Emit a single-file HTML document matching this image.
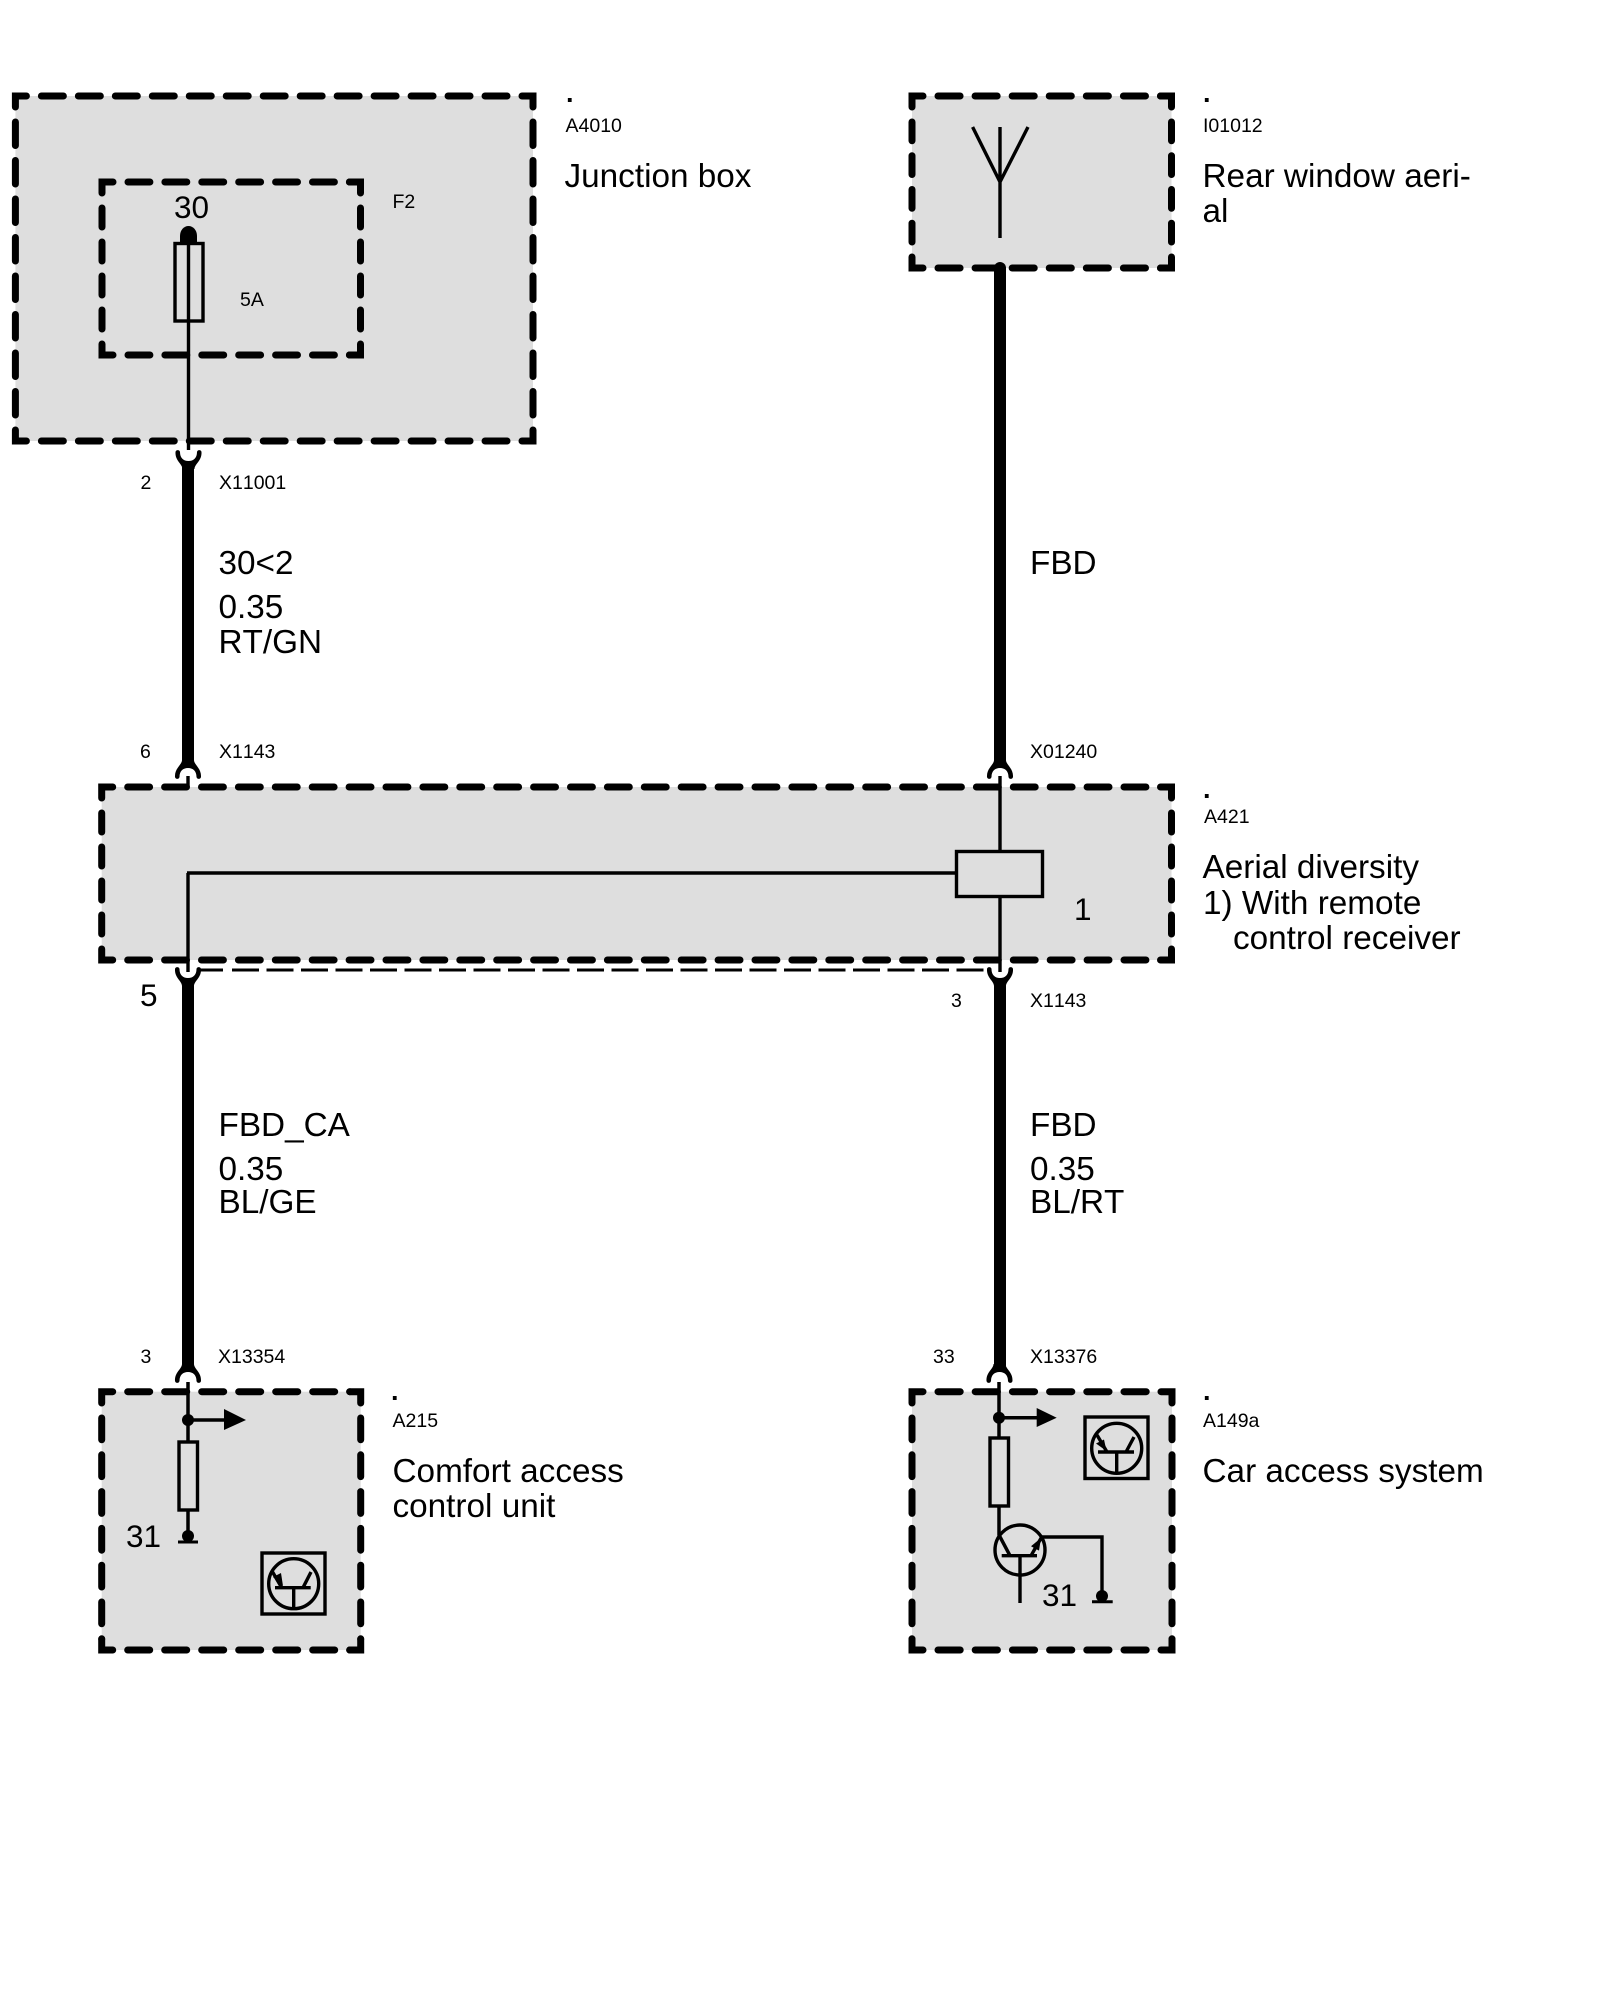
<!DOCTYPE html>
<html><head><meta charset="utf-8"><style>
html,body{margin:0;padding:0;background:#fff}
svg{display:block}
text{font-family:"Liberation Sans",sans-serif;fill:#000;font-kerning:none}
.s{font-size:19.5px}.l{font-size:33.3px}.m{font-size:31.5px}
.p{font-size:27px;font-weight:bold}
.c{fill:none;stroke:#000;stroke-width:7;stroke-linecap:round;stroke-linejoin:miter}
.d{fill:none;stroke:#000;stroke-width:7;stroke-linecap:round}
.w{fill:none;stroke:#000;stroke-width:3.4}
.t{fill:none;stroke:#000;stroke-width:12}
</style></head><body>
<svg width="1600" height="2000" viewBox="0 0 1600 2000" xmlns="http://www.w3.org/2000/svg">
<defs>
<path id="fk" d="M-6 -8C-6 -3 -13.5 0 -13 9A2.3 2.3 0 0 0 -8.5 9C-8.5 3 -5 0 0 0C5 0 8.5 3 8.5 9A2.3 2.3 0 0 0 13 9C13.5 0 6 -3 6 -8Z" fill="#000"/>
</defs>
<rect width="1600" height="2000" fill="#fff"/>
<!-- fills -->
<g fill="#dedede">
<rect x="15.4" y="96" width="517.6" height="345"/>
<rect x="912" y="96" width="259.5" height="172"/>
<rect x="101.7" y="787" width="1069.8" height="173"/>
<rect x="101.7" y="1391.7" width="259" height="258.3"/>
<rect x="912" y="1391.7" width="260" height="258.3"/>
</g>
<!-- box 1 -->
<path class="c" d="M15.4 107V96H26.4M522 96H533V107M533 430V441H522M26.4 441H15.4V430"/>
<line class="d" x1="26.4" y1="96" x2="522" y2="96" stroke-dasharray="21.97 15" stroke-dashoffset="21.97"/>
<line class="d" x1="26.4" y1="441" x2="522" y2="441" stroke-dasharray="21.97 15" stroke-dashoffset="21.97"/>
<line class="d" x1="15.4" y1="107" x2="15.4" y2="430" stroke-dasharray="23.5 15" stroke-dashoffset="23.5"/>
<line class="d" x1="533" y1="107" x2="533" y2="430" stroke-dasharray="23.5 15" stroke-dashoffset="23.5"/>
<!-- F2 -->
<path class="c" d="M102 193V182H113M349.5 182H360.5V193M360.5 344V355H349.5M113 355H102V344"/>
<line class="d" x1="113" y1="182" x2="349.5" y2="182" stroke-dasharray="21.9 15" stroke-dashoffset="21.9"/>
<line class="d" x1="113" y1="355" x2="349.5" y2="355" stroke-dasharray="21.9 15" stroke-dashoffset="21.9"/>
<line class="d" x1="102" y1="193" x2="102" y2="344" stroke-dasharray="19 15" stroke-dashoffset="19"/>
<line class="d" x1="360.5" y1="193" x2="360.5" y2="344" stroke-dasharray="19 15" stroke-dashoffset="19"/>
<!-- antenna box -->
<path class="c" d="M912 107V96H923M1160.5 96H1171.5V107M1171.5 257V268H1160.5M923 268H912V257"/>
<line class="d" x1="923" y1="96" x2="1160.5" y2="96" stroke-dasharray="22.08 15" stroke-dashoffset="22.08"/>
<line class="d" x1="923" y1="268" x2="1160.5" y2="268" stroke-dasharray="22.08 15" stroke-dashoffset="22.08"/>
<line class="d" x1="912" y1="107" x2="912" y2="257" stroke-dasharray="18.75 15" stroke-dashoffset="18.75"/>
<line class="d" x1="1171.5" y1="107" x2="1171.5" y2="257" stroke-dasharray="18.75 15" stroke-dashoffset="18.75"/>
<!-- A421 -->
<path class="c" d="M101.7 798V787H112.7M1160.5 787H1171.5V798M1171.5 949V960H1160.5M112.7 960H101.7V949"/>
<line class="d" x1="112.7" y1="787" x2="1160.5" y2="787" stroke-dasharray="21.9 15" stroke-dashoffset="21.9"/>
<line class="d" x1="112.7" y1="960" x2="1160.5" y2="960" stroke-dasharray="21.9 15" stroke-dashoffset="21.9"/>
<line class="d" x1="101.7" y1="798" x2="101.7" y2="949" stroke-dasharray="19 15" stroke-dashoffset="19"/>
<line class="d" x1="1171.5" y1="798" x2="1171.5" y2="949" stroke-dasharray="19 15" stroke-dashoffset="19"/>
<!-- bottom left -->
<path class="c" d="M101.7 1403V1391.7H112.7M349.7 1391.7H360.7V1403M360.7 1639V1650H349.7M112.7 1650H101.7V1639"/>
<line class="d" x1="112.7" y1="1391.7" x2="349.7" y2="1391.7" stroke-dasharray="22 15" stroke-dashoffset="22"/>
<line class="d" x1="112.7" y1="1650" x2="349.7" y2="1650" stroke-dasharray="22 15" stroke-dashoffset="22"/>
<line class="d" x1="101.7" y1="1403" x2="101.7" y2="1639" stroke-dasharray="21.8 15" stroke-dashoffset="21.8"/>
<line class="d" x1="360.7" y1="1403" x2="360.7" y2="1639" stroke-dasharray="21.8 15" stroke-dashoffset="21.8"/>
<!-- bottom right -->
<path class="c" d="M912 1403V1391.7H923M1161 1391.7H1172V1403M1172 1639V1650H1161M923 1650H912V1639"/>
<line class="d" x1="923" y1="1391.7" x2="1161" y2="1391.7" stroke-dasharray="22.2 15" stroke-dashoffset="22.2"/>
<line class="d" x1="923" y1="1650" x2="1161" y2="1650" stroke-dasharray="22.2 15" stroke-dashoffset="22.2"/>
<line class="d" x1="912" y1="1403" x2="912" y2="1639" stroke-dasharray="21.8 15" stroke-dashoffset="21.8"/>
<line class="d" x1="1172" y1="1403" x2="1172" y2="1639" stroke-dasharray="21.8 15" stroke-dashoffset="21.8"/>

<!-- thick wires -->
<line class="t" x1="188" y1="462" x2="188" y2="762"/>
<line class="t" x1="1000" y1="268" x2="1000" y2="762"/>
<circle cx="1000" cy="268" r="6" fill="#000"/>
<line class="t" x1="188" y1="984" x2="188" y2="1366"/>
<line class="t" x1="1000" y1="984" x2="1000" y2="1366"/>
<!-- forks -->
<use href="#fk" transform="translate(188.5,461) scale(1,-1)"/>
<use href="#fk" transform="translate(188,768)"/>
<use href="#fk" transform="translate(1000,768)"/>
<use href="#fk" transform="translate(188,978) scale(1,-1)"/>
<use href="#fk" transform="translate(1000,978) scale(1,-1)"/>
<use href="#fk" transform="translate(188,1372)"/>
<use href="#fk" transform="translate(999.5,1372)"/>
<!-- box1 internals -->
<line class="w" x1="188.5" y1="236" x2="188.5" y2="450"/>
<rect class="w" x="175" y="243.5" width="28" height="77.5"/>
<path d="M180 243V236C180 230 184 226 188.5 226C193 226 197 230 197 236V243Z" fill="#000"/>
<!-- antenna -->
<path class="w" d="M1000 127V238M972.6 127L1000 182L1028 127"/>
<!-- A421 internals -->
<path class="w" d="M188 776V787M188 873V972M187 873H956M1000 776V851M1000 896V972"/>
<rect class="w" x="956.5" y="851.5" width="86" height="45"/>
<line x1="200" y1="970" x2="223" y2="970" stroke="#000" stroke-width="3"/>
<line x1="232" y1="970" x2="987" y2="970" stroke="#000" stroke-width="3" stroke-dasharray="27 7.5"/>
<!-- bottom left internals -->
<path class="w" style="stroke-width:3.5" d="M188 1382V1441.7M188 1510V1537M188 1420H225"/>
<circle cx="188" cy="1420" r="6" fill="#000"/>
<polygon points="224,1409 246,1420 224,1430" fill="#000"/>
<rect class="w" x="179" y="1442" width="18.5" height="68"/>
<circle cx="188" cy="1536" r="6" fill="#000"/>
<line x1="178" y1="1542" x2="198" y2="1542" stroke="#000" stroke-width="3"/>
<rect class="w" x="262" y="1553" width="63" height="61"/>
<circle class="w" cx="293.7" cy="1583.7" r="25"/>
<path class="w" d="M275 1587.7H310.7M293.7 1587.7V1608M281.7 1587.7L272 1571M303 1587.7L311 1572"/>
<polygon points="283,1586 281,1573 273,1577" fill="#000"/>
<!-- bottom right internals -->
<path class="w" style="stroke-width:3.5" d="M999 1382V1438M999 1506V1535L1010 1555.7M999 1417.7H1037"/>
<circle cx="999" cy="1417.7" r="6" fill="#000"/>
<polygon points="1036.7,1408 1056.7,1417.7 1036.7,1427" fill="#000"/>
<rect class="w" x="990" y="1438" width="18.5" height="68"/>
<circle class="w" cx="1020" cy="1550" r="25"/>
<path class="w" d="M1001.7 1555.7H1037M1020 1555.7V1603M1031 1555.7L1041.7 1537H1102V1591"/>
<polygon points="1041,1538 1039,1550.6 1031,1546.2" fill="#000"/>
<circle cx="1102" cy="1596" r="6" fill="#000"/>
<line x1="1092" y1="1601.7" x2="1112.7" y2="1601.7" stroke="#000" stroke-width="3"/>
<rect class="w" x="1085" y="1417" width="63" height="61.5"/>
<circle class="w" cx="1116.7" cy="1448.3" r="25"/>
<path class="w" d="M1098 1452H1134M1116.7 1452V1472.5M1107 1452L1097 1435M1126 1452L1134 1437"/>
<polygon points="1106.5,1451 1104,1439.5 1096,1443.5" fill="#000"/>

<!-- text -->
<text class="p" x="566" y="102">.</text>
<text class="s" x="565.5" y="132">A4010</text>
<text class="l" x="564.5" y="187">Junction box</text>
<text class="s" x="392.5" y="208">F2</text>
<text class="s" x="240" y="306">5A</text>
<text class="m" x="174" y="218">30</text>
<text class="s" x="140.5" y="489">2</text>
<text class="s" x="219" y="489">X11001</text>

<text class="p" x="1203" y="102">.</text>
<text class="s" x="1203" y="132">I01012</text>
<text class="l" x="1202.5" y="187">Rear window aeri-</text>
<text class="l" x="1202.5" y="222">al</text>

<text class="l" x="218.5" y="574">30&lt;2</text>
<text class="l" x="218.5" y="618">0.35</text>
<text class="l" x="218.5" y="653">RT/GN</text>
<text class="l" x="1030" y="574">FBD</text>

<text class="s" x="140" y="758">6</text>
<text class="s" x="219" y="758">X1143</text>
<text class="s" x="1030" y="758">X01240</text>

<text class="p" x="1203" y="798">.</text>
<text class="s" x="1204" y="823">A421</text>
<text class="l" x="1202.5" y="878">Aerial diversity</text>
<text class="l" x="1203" y="914">1) With remote</text>
<text class="l" x="1233" y="949">control receiver</text>
<text class="m" x="1074" y="920">1</text>

<text class="m" x="140" y="1006">5</text>
<text class="s" x="951" y="1007">3</text>
<text class="s" x="1030" y="1007">X1143</text>

<text class="l" x="218.5" y="1136">FBD_CA</text>
<text class="l" x="218.5" y="1180">0.35</text>
<text class="l" x="218.5" y="1213">BL/GE</text>
<text class="l" x="1030" y="1136">FBD</text>
<text class="l" x="1030" y="1180">0.35</text>
<text class="l" x="1030" y="1213">BL/RT</text>

<text class="s" x="140.5" y="1363">3</text>
<text class="s" x="218" y="1363">X13354</text>
<text class="s" x="933" y="1363">33</text>
<text class="s" x="1030" y="1363">X13376</text>

<text class="p" x="391" y="1400">.</text>
<text class="s" x="392.5" y="1427">A215</text>
<text class="l" x="392.5" y="1482">Comfort access</text>
<text class="l" x="392.5" y="1517">control unit</text>
<text class="m" x="126" y="1547">31</text>

<text class="p" x="1203" y="1400">.</text>
<text class="s" x="1203" y="1427">A149a</text>
<text class="l" x="1202.5" y="1482">Car access system</text>
<text class="m" x="1042" y="1606">31</text>
</svg>
</body></html>
